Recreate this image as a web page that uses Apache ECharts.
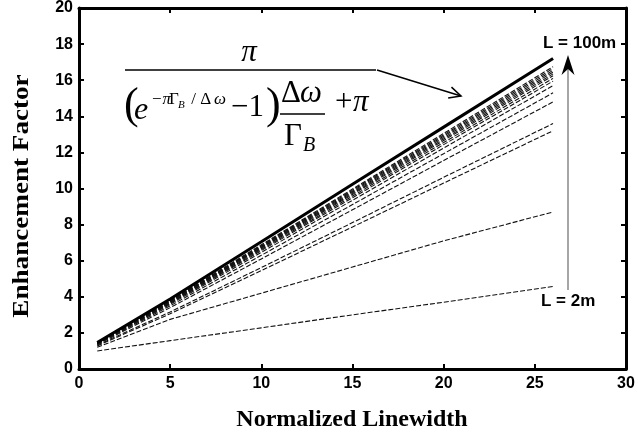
<!DOCTYPE html>
<html>
<head>
<meta charset="utf-8">
<script src="https://cdn.jsdelivr.net/npm/echarts@6/dist/echarts.min.js"></script>
<style>
  html, body { margin: 0; padding: 0; background: #fff; }
  #chart { width: 638px; height: 435px; }
</style>
</head>
<body>
<div id="chart"></div>
<script>
// Normalized linewidth sample points shared by every curve
const linewidth = [1, 5, 10, 15, 20, 26];

// Analytic enhancement factor (solid curve)
const idealFactor = [1.47, 3.88, 7.05, 10.23, 13.40, 17.20];

// Finite fiber lengths, from L = 100m (top) down to L = 2m (bottom)
const curveL01 = [1.46, 3.80, 6.88, 9.97, 13.05, 16.75];
const curveL02 = [1.45, 3.78, 6.84, 9.91, 12.97, 16.65];
const curveL03 = [1.45, 3.76, 6.80, 9.85, 12.90, 16.55];
const curveL04 = [1.44, 3.74, 6.76, 9.79, 12.82, 16.45];
const curveL05 = [1.44, 3.72, 6.72, 9.73, 12.74, 16.35];
const curveL06 = [1.43, 3.70, 6.68, 9.67, 12.66, 16.25];
const curveL07 = [1.42, 3.66, 6.62, 9.58, 12.55, 16.10];
const curveL08 = [1.41, 3.63, 6.56, 9.49, 12.43, 15.95];
const curveL09 = [1.40, 3.58, 6.46, 9.35, 12.24, 15.70];
const curveL10 = [1.38, 3.50, 6.30, 9.11, 11.93, 15.30];
const curveL11 = [1.36, 3.40, 6.10, 8.82, 11.55, 14.80];
const curveL12 = [1.32, 3.16, 5.62, 8.11, 10.62, 13.60];
const curveL13 = [1.28, 3.06, 5.45, 7.87, 10.30, 13.20];
const curveL14 = [1.20, 2.75, 4.20, 5.65, 7.10, 8.70];
const curveL15 = [1.00, 1.57, 2.28, 3.00, 3.70, 4.57];

const dashedCurves = [curveL01, curveL02, curveL03, curveL04, curveL05, curveL06, curveL07,
  curveL08, curveL09, curveL10, curveL11, curveL12, curveL13, curveL14, curveL15];

const xAxisTitle = 'Normalized Linewidth';
const yAxisTitle = 'Enhancement Factor';
const topLabel = 'L = 100m';
const bottomLabel = 'L = 2m';

const pairs = ys => linewidth.map((x, i) => [x, ys[i]]);

const tickFont = { fontFamily: '"Liberation Sans", Arial, sans-serif', fontWeight: 'bold', fontSize: 16, color: '#000' };
const serif = '"Liberation Serif", "Times New Roman", serif';

const frameLine = { show: true, onZero: false, lineStyle: { color: '#000', width: 3 } };
const innerTick = { show: true, inside: true, length: 5, lineStyle: { color: '#000', width: 2 } };

const series = dashedCurves.map(ys => ({
  type: 'line',
  data: pairs(ys),
  symbol: 'none',
  smooth: false,
  z: 2,
  lineStyle: { color: '#111', width: 1.1, type: [5, 2] }
}));
series.push({
  type: 'line',
  data: pairs(idealFactor),
  symbol: 'none',
  z: 3,
  lineStyle: { color: '#000', width: 3 }
});

function txt(x, y, text, font, align, vAlign) {
  return {
    type: 'text', x: x, y: y, z: 10,
    style: { text: text, font: font, fill: '#000', align: align || 'left', verticalAlign: vAlign || 'middle' }
  };
}

// Formula annotation pieces
const fIt = s => 'italic ' + s + 'px ' + serif;
const fRm = s => s + 'px ' + serif;

// Arrow from the formula to the solid curve
const ax0 = 377, ay0 = 70, ax1 = 461, ay1 = 96;
const ang = Math.atan2(ay1 - ay0, ax1 - ax0);
const headLen = 13, headSpread = 0.45;
const headA = [ax1 - headLen * Math.cos(ang - headSpread), ay1 - headLen * Math.sin(ang - headSpread)];
const headB = [ax1 - headLen * Math.cos(ang + headSpread), ay1 - headLen * Math.sin(ang + headSpread)];

const graphic = [
  // numerator
  txt(249, 53, 'π', fIt(31), 'center'),
  { type: 'line', z: 10, shape: { x1: 125, y1: 70, x2: 376, y2: 70 }, style: { stroke: '#000', lineWidth: 1.5 } },
  // denominator
  txt(124, 106, '(', fRm(44), 'left'),
  txt(134, 111, 'e', fIt(32), 'left'),
  txt(151, 100, '−π', fIt(17), 'left'),
  txt(169, 100, 'Γ', fRm(17), 'left'),
  txt(178, 105, 'B', fIt(11), 'left'),
  txt(187, 100, ' / Δ', fRm(17), 'left'),
  txt(214, 100, 'ω', fIt(17), 'left'),
  txt(231, 108, '−1', fRm(31), 'left'),
  txt(266, 106, ')', fRm(44), 'left'),
  txt(281, 94, 'Δ', fRm(31), 'left'),
  txt(300, 94, 'ω', fIt(31), 'left'),
  { type: 'line', z: 10, shape: { x1: 280, y1: 114, x2: 325, y2: 114 }, style: { stroke: '#000', lineWidth: 1.3 } },
  txt(284, 137, 'Γ', fRm(31), 'left'),
  txt(303, 146, 'B', fIt(20), 'left'),
  txt(335, 103, '+', fRm(31), 'left'),
  txt(353, 103, 'π', fIt(31), 'left'),
  // pointer arrow
  { type: 'line', z: 10, shape: { x1: ax0, y1: ay0, x2: ax1, y2: ay1 }, style: { stroke: '#000', lineWidth: 1.5 } },
  { type: 'polyline', z: 10, shape: { points: [headA, [ax1, ay1], headB] }, style: { stroke: '#000', lineWidth: 1.5, fill: null } },
  // fiber length arrow
  { type: 'line', z: 10, shape: { x1: 568, y1: 290, x2: 568, y2: 66 }, style: { stroke: '#888', lineWidth: 1.5 } },
  { type: 'polygon', z: 10, shape: { points: [[568, 55], [561.5, 75], [568, 69], [574.5, 75]] }, style: { fill: '#000' } },
  txt(543, 43, topLabel, 'bold 17px "Liberation Sans", Arial, sans-serif', 'left'),
  txt(541, 301, bottomLabel, 'bold 17px "Liberation Sans", Arial, sans-serif', 'left'),
  // axis titles
  txt(352, 420, xAxisTitle, 'bold 24px ' + serif, 'center'),
  {
    type: 'text', x: 22, y: 196, rotation: Math.PI / 2, scaleX: 1.13, z: 10,
    style: { text: yAxisTitle, font: 'bold 24px ' + serif, fill: '#000', align: 'center', verticalAlign: 'middle' }
  }
];

const chart = echarts.init(document.getElementById('chart'), null, { renderer: 'canvas' });
chart.setOption({
  animation: false,
  backgroundColor: '#fff',
  grid: { left: 79, right: 12, top: 4, bottom: 66, containLabel: false },
  xAxis: [
    {
      type: 'value', min: 0, max: 30, interval: 5, position: 'bottom',
      axisLine: frameLine, axisTick: innerTick, splitLine: { show: false },
      axisLabel: Object.assign({ margin: 7 }, tickFont)
    },
    {
      type: 'value', min: 0, max: 30, interval: 5, position: 'top',
      axisLine: frameLine, axisTick: innerTick, splitLine: { show: false },
      axisLabel: { show: false }
    }
  ],
  yAxis: [
    {
      type: 'value', min: 0, max: 20, interval: 2, position: 'left',
      axisLine: frameLine, axisTick: innerTick, splitLine: { show: false },
      axisLabel: Object.assign({ margin: 6 }, tickFont)
    },
    {
      type: 'value', min: 0, max: 20, interval: 2, position: 'right',
      axisLine: frameLine, axisTick: innerTick, splitLine: { show: false },
      axisLabel: { show: false }
    }
  ],
  series: series,
  graphic: graphic
});
</script>
</body>
</html>
